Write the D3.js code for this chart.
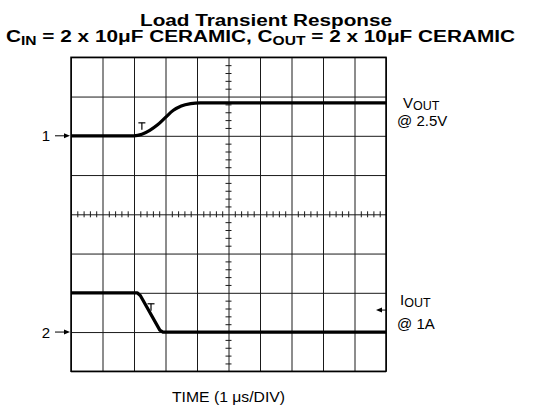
<!DOCTYPE html>
<html>
<head>
<meta charset="utf-8">
<script src="https://cdn.jsdelivr.net/npm/d3@7"></script>
<style>
	body { margin: 0; background: #fff; }
	svg { display: block; font-family: Arial, 'Liberation Sans', sans-serif; }
</style>
</head>
<body>
<svg></svg>
<script>

// scope trace, x in divisions (1 us / div), y in divisions from centre
const voutT = [0, 2.0, 2.25, 2.5, 2.75, 3.0, 3.25, 3.5, 3.8, 4.1, 10]
const voutV = [2, 2, 2.04, 2.14, 2.28, 2.47, 2.65, 2.76, 2.82, 2.84, 2.84]

const ioutT = [0, 2.1, 2.2, 2.82, 2.92, 10]
const ioutV = [-2, -2, -2.07, -2.95, -3, -3]

// trigger "T" markers
const markT = [2.25, 2.54]
const markV = [2.33, -2.28]

// channel ground markers
const chanNames = ['1', '2']
const chanLevels = [2, -3]

const title1 = 'Load Transient Response'
const xLabel = 'TIME (1 \u03bcs/DIV)'

let w = 538, h = 408

let x = d3.scaleLinear().domain([0, 10]).range([71, 386])
let y = d3.scaleLinear().domain([-4, 4]).range([371.3, 57.3])

let svg = d3.select('svg')
	.attr('width', w)
	.attr('height', h)

// grid
let gh = y(-4) - y(4), gw = x(10) - x(0)

svg.append('g')
	.attr('transform', `translate(0, ${y(-4)})`)
	.call(d3.axisBottom(x).ticks(10).tickSize(-gh).tickFormat(''))
	.call(g => g.select('.domain').remove())
	.selectAll('line').attr('stroke', '#1a1a1a')

svg.append('g')
	.attr('transform', `translate(${x(0)}, 0)`)
	.call(d3.axisLeft(y).ticks(8).tickSize(-gw).tickFormat(''))
	.call(g => g.select('.domain').remove())
	.selectAll('line').attr('stroke', '#1a1a1a')

// minor ticks on centre lines
let minorX = d3.range(0, 50).map(i => i / 5).filter(v => v % 1 !== 0)
let minorY = d3.range(-20, 21).map(i => i / 5).filter(v => v % 1 !== 0)

svg.append('g')
	.attr('transform', `translate(0, ${y(0) - 3})`)
	.call(d3.axisBottom(x).tickValues(minorX).tickSize(6).tickFormat(''))
	.call(g => g.select('.domain').remove())
	.selectAll('line').attr('stroke', '#1a1a1a')

svg.append('g')
	.attr('transform', `translate(${x(5) - 3}, 0)`)
	.call(d3.axisRight(y).tickValues(minorY).tickSize(6).tickFormat(''))
	.call(g => g.select('.domain').remove())
	.selectAll('line').attr('stroke', '#1a1a1a')

svg.append('rect')
	.attr('x', x(0)).attr('y', y(4))
	.attr('width', gw).attr('height', gh)
	.attr('fill', 'none').attr('stroke', '#000').attr('stroke-width', 1.5)

// traces
let line = d3.line().x(d => x(d[0])).y(d => y(d[1]))

svg.append('path')
	.datum(d3.zip(voutT, voutV))
	.attr('d', line.curve(d3.curveMonotoneX))
	.attr('fill', 'none').attr('stroke', '#000').attr('stroke-width', 3.2)

svg.append('path')
	.datum(d3.zip(ioutT, ioutV))
	.attr('d', line.curve(d3.curveLinear))
	.attr('fill', 'none').attr('stroke', '#000').attr('stroke-width', 3.2)
	.attr('stroke-linejoin', 'round')

// T markers
let marks = svg.append('g').selectAll('g')
	.data(d3.zip(markT, markV)).enter().append('g')
	.attr('transform', d => `translate(${x(d[0])}, ${y(d[1])})`)
marks.append('line').attr('x1', -3.5).attr('x2', 3.5).attr('y1', 0).attr('y2', 0)
	.attr('stroke', '#000').attr('stroke-width', 1.2)
marks.append('line').attr('x1', 0).attr('x2', 0).attr('y1', 0).attr('y2', 7)
	.attr('stroke', '#000').attr('stroke-width', 1.2)

// channel markers on the left
let chans = svg.append('g').selectAll('g')
	.data(d3.zip(chanNames, chanLevels)).enter().append('g')
	.attr('transform', d => `translate(0, ${y(d[1])})`)
chans.append('text')
	.attr('x', 46).attr('y', 5.5)
	.attr('text-anchor', 'middle')
	.attr('font-size', 15)
	.text(d => d[0])
chans.append('line').attr('x1', 55).attr('x2', 66).attr('y1', 0).attr('y2', 0)
	.attr('stroke', '#000').attr('stroke-width', 1)
chans.append('path').attr('d', 'M70,0 L64,-2.5 L64,2.5 Z').attr('fill', '#000')

// IOUT pointer at right edge
svg.append('path')
	.attr('d', `M${x(10) - 10},${y(-2.44)} L${x(10) - 4},${y(-2.44) - 2.5} L${x(10) - 4},${y(-2.44) + 2.5} Z`)
	.attr('fill', '#000')
svg.append('line')
	.attr('x1', x(10) - 5).attr('x2', x(10)).attr('y1', y(-2.44)).attr('y2', y(-2.44))
	.attr('stroke', '#000')

// right labels
const sub = (t, main, s, size) => {
	t.append('tspan').text(main)
	t.append('tspan').attr('font-size', size).attr('dy', 2).text(s)
}

let vl = svg.append('text').attr('x', 403).attr('y', 107.5).attr('font-size', 15)
sub(vl, 'V', 'OUT', 12.5)
svg.append('text').attr('x', 397).attr('y', 126).attr('font-size', 15).text('@ 2.5V')

let il = svg.append('text').attr('x', 400).attr('y', 305).attr('font-size', 15)
sub(il, 'I', 'OUT', 12.5)
svg.append('text').attr('x', 397).attr('y', 329).attr('font-size', 15).text('@ 1A')

// titles
svg.append('text')
	.attr('x', 140).attr('y', 26)
	.attr('font-size', 16).attr('font-weight', 'bold')
	.attr('textLength', 252).attr('lengthAdjust', 'spacingAndGlyphs')
	.text(title1)

let t2 = svg.append('text')
	.attr('x', 6).attr('y', 41.5)
	.attr('font-size', 16).attr('font-weight', 'bold')
	.attr('textLength', 509).attr('lengthAdjust', 'spacingAndGlyphs')
t2.append('tspan').text('C')
t2.append('tspan').attr('font-size', 12).attr('dy', 3).text('IN')
t2.append('tspan').attr('dy', -3).text(' = 2 x 10\u03bcF CERAMIC, C')
t2.append('tspan').attr('font-size', 12).attr('dy', 3).text('OUT')
t2.append('tspan').attr('dy', -3).text(' = 2 x 10\u03bcF CERAMIC')

svg.append('text')
	.attr('x', 172).attr('y', 402)
	.attr('font-size', 14)
	.attr('textLength', 113).attr('lengthAdjust', 'spacingAndGlyphs')
	.text(xLabel)

</script>
</body>
</html>
